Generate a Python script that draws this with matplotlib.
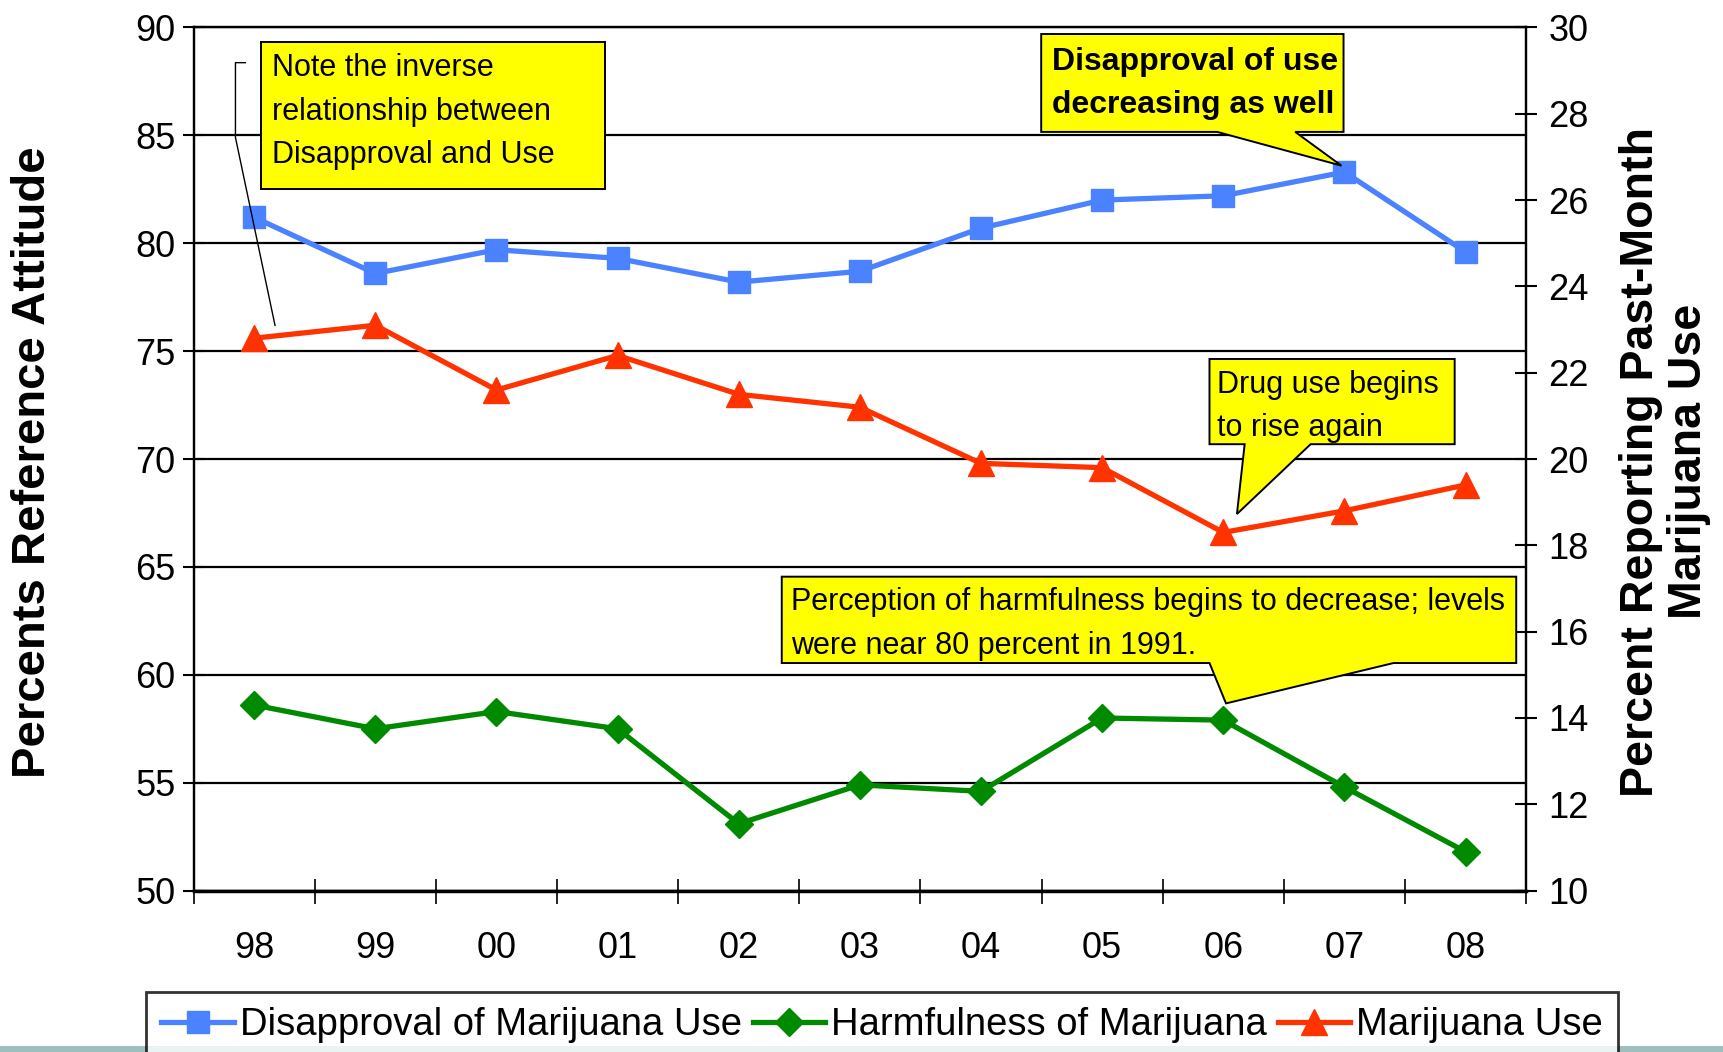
import numpy as np
import matplotlib
matplotlib.use('Agg')
import matplotlib.pyplot as plt
from matplotlib.patches import Polygon, Rectangle
from matplotlib.lines import Line2D

plt.rcParams['font.family'] = ['Liberation Sans', 'DejaVu Sans']

# data
years = ['98', '99', '00', '01', '02', '03', '04', '05', '06', '07', '08']
disapproval = [81.2, 78.6, 79.7, 79.3, 78.2, 78.7, 80.7, 82.0, 82.2, 83.3, 79.6]
harmfulness = [58.6, 57.5, 58.3, 57.5, 53.1, 54.9, 54.6, 58.0, 57.9, 54.8, 51.8]
mj_use = [22.8, 23.1, 21.6, 22.4, 21.5, 21.2, 19.9, 19.8, 18.3, 18.8, 19.4]

left_ticks = [50, 55, 60, 65, 70, 75, 80, 85, 90]
right_ticks = [10, 12, 14, 16, 18, 20, 22, 24, 26, 28, 30]

BLUE = '#4A82FF'
GREEN = '#008A00'
RED = '#FF3300'
YELLOW = '#FFFF00'

x = np.arange(len(years))

fig = plt.figure(figsize=(17.24, 10.52), dpi=100)
ax = fig.add_axes([0.1123, 0.1534, 0.7729, 0.8205])
ax2 = ax.twinx()

# left axis series
ax.plot(x, disapproval, color=BLUE, lw=3.8, marker='s', ms=16.5, zorder=3)
ax.plot(x, harmfulness, color=GREEN, lw=3.8, marker='D', ms=14, zorder=3)
# right axis series
ax2.plot(x, mj_use, color=RED, lw=3.8, marker='^', ms=18.5, zorder=3)

ax.set_xlim(-0.5, len(years) - 0.5)
ax.set_ylim(50, 90)
ax2.set_ylim(10, 30)

ax.set_yticks(left_ticks)
ax.set_yticklabels([str(v) for v in left_ticks])
ax2.set_yticks(right_ticks)
ax2.set_yticklabels([str(v) for v in right_ticks])

# category boundaries as ticks, labels in the middle
ax.set_xticks(np.arange(-0.5, len(years), 1.0))
ax.set_xticklabels([])
ax.set_xticks(x, minor=True)
ax.set_xticklabels(years, minor=True)
ax.tick_params(axis='x', which='major', direction='inout', length=18, width=1.2)
ax.tick_params(axis='x', which='minor', length=0, pad=29, labelsize=26)
ax.tick_params(axis='y', direction='inout', length=16, width=1.5, labelsize=26, pad=5)
ax2.tick_params(axis='y', direction='inout', length=16, width=1.5, labelsize=26, pad=8)

ax.grid(axis='y', color='black', lw=1.6)
ax.set_axisbelow(True)
for s in ax.spines.values():
    s.set_linewidth(1.6)
ax.spines['bottom'].set_linewidth(2.5)
for s in ax2.spines.values():
    s.set_linewidth(1.6)

fig.text(0.019, 0.561, 'Percents Reference Attitude', rotation=90, ha='center', va='center',
         fontsize=34, fontweight='bold')
fig.text(0.966, 0.561, 'Percent Reporting Past-Month\nMarijuana Use', rotation=90, ha='center',
         va='center', fontsize=33.5, fontweight='bold', linespacing=1.12)


def callout(box, base=None, tip=None):
    x0, y0, x1, y1 = box
    if base is None:
        pts = [(x0, y1), (x1, y1), (x1, y0), (x0, y0)]
    else:
        pts = [(x0, y1), (x1, y1), (x1, y0), (base[1], y0), tip, (base[0], y0), (x0, y0)]
    ax2.add_patch(Polygon(pts, closed=True, transform=ax2.transAxes, facecolor=YELLOW,
                          edgecolor='black', lw=1.4, zorder=10))


# note box with bracket leader
callout((0.0503, 0.8127, 0.3086, 0.9834))
ax2.add_line(Line2D([0.0388, 0.0314, 0.0314, 0.0611], [0.9592, 0.9592, 0.8726, 0.6548],
                    transform=ax2.transAxes, color='black', lw=1.0, zorder=10))
ax2.text(0.0586, 0.9025, 'Note the inverse\nrelationship between\nDisapproval and Use',
         transform=ax2.transAxes, fontsize=22, va='center', ha='left', linespacing=1.58, zorder=11)

callout((0.6361, 0.8790, 0.8630, 0.9924), base=(0.7682, 0.8267), tip=(0.8614, 0.8399))
ax2.text(0.6444, 0.935, 'Disapproval of use\ndecreasing as well', transform=ax2.transAxes,
         fontsize=23, fontweight='bold', va='center', ha='left', linespacing=1.55, zorder=11)

callout((0.7624, 0.5172, 0.9464, 0.6159), base=(0.7888, 0.8383), tip=(0.7830, 0.4363))
ax2.text(0.7682, 0.5611, 'Drug use begins\nto rise again', transform=ax2.transAxes,
         fontsize=22, va='center', ha='left', linespacing=1.58, zorder=11)

callout((0.4414, 0.2637, 0.9926, 0.3637), base=(0.7624, 0.9006), tip=(0.7748, 0.2169))
ax2.text(0.448, 0.3089, 'Perception of harmfulness begins to decrease; levels\nwere near 80 percent in 1991.',
         transform=ax2.transAxes, fontsize=22, va='center', ha='left', linespacing=1.58, zorder=11)

# bottom strip of the slide
fig.patches.append(Rectangle((0, 0), 1, 6 / 1052, transform=fig.transFigure,
                             facecolor='#9FBFBF', edgecolor='none', zorder=0))

handles = [
    Line2D([], [], color=BLUE, lw=3.8, marker='s', ms=16.5),
    Line2D([], [], color=GREEN, lw=3.8, marker='D', ms=14),
    Line2D([], [], color=RED, lw=3.8, marker='^', ms=18.5),
]
labels = ['Disapproval of Marijuana Use', 'Harmfulness of Marijuana', 'Marijuana Use']
leg = fig.legend(handles, labels, loc='upper left', bbox_to_anchor=(0.0847, -0.05, 0.8539, 0.107),
                 mode='expand', ncol=3, fontsize=27.5, frameon=True, fancybox=False,
                 handlelength=1.9, handletextpad=0.15, borderaxespad=0, borderpad=0.4)
leg.get_frame().set_edgecolor('black')
leg.get_frame().set_linewidth(2)

fig.savefig('out.png', dpi=100)
